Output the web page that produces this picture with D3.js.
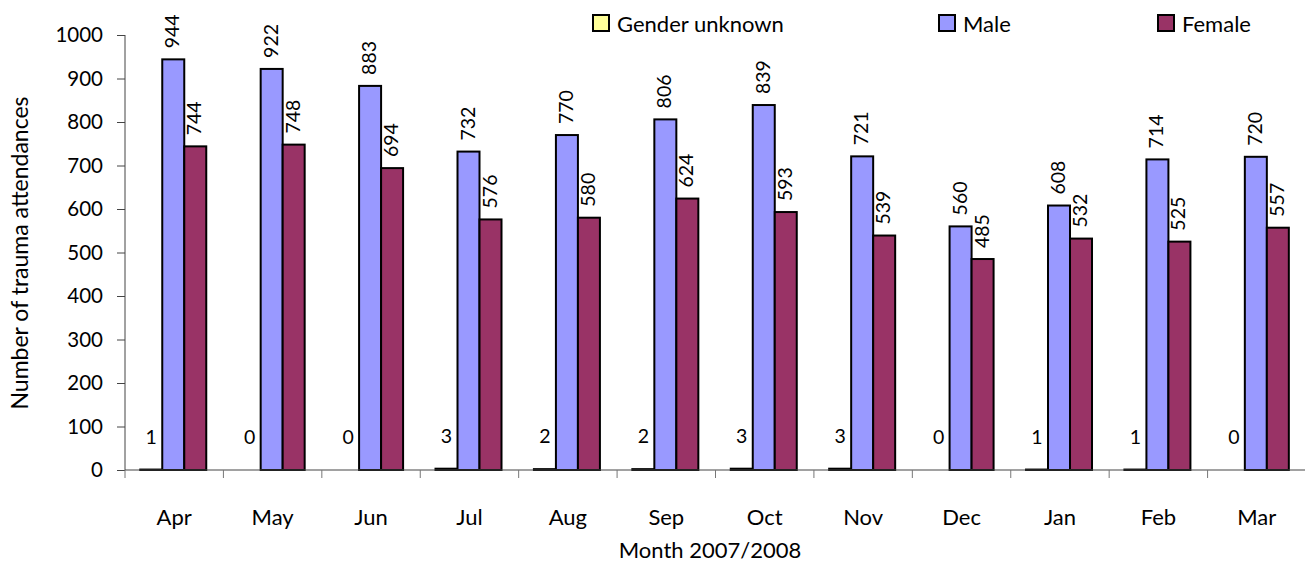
<!DOCTYPE html>
<html>
<head>
<meta charset="utf-8">
<script src="https://cdn.jsdelivr.net/npm/d3@7"></script>
<style>
  body { margin: 0; background: #fff; }
  svg { display: block; font-family: Lato, "Open Sans", sans-serif; }
</style>
</head>
<body>
<div id="chart"></div>
<script>
const months = ['Apr', 'May', 'Jun', 'Jul', 'Aug', 'Sep', 'Oct', 'Nov', 'Dec', 'Jan', 'Feb', 'Mar'];
const seriesNames = ['Gender unknown', 'Male', 'Female'];
const unknownValues = [1, 0, 0, 3, 2, 2, 3, 3, 0, 1, 1, 0];
const maleValues = [944, 922, 883, 732, 770, 806, 839, 721, 560, 608, 714, 720];
const femaleValues = [744, 748, 694, 576, 580, 624, 593, 539, 485, 532, 525, 557];
const yTicks = [0, 100, 200, 300, 400, 500, 600, 700, 800, 900, 1000];

const colors = ['#FFFF99', '#9999FF', '#993366'];
const allSeries = [unknownValues, maleValues, femaleValues];

const width = 1305, height = 563;
const plotLeft = 125, plotRight = 1306, plotTop = 35, plotBottom = 470;
const labelSize = 19.5, tickSize = 20.5, textSize = 22;

const svg = d3.select('#chart').append('svg')
    .attr('width', width)
    .attr('height', height);

const x0 = d3.scaleBand().domain(months).range([plotLeft, plotRight]);
const inner = x0.bandwidth();
const x1 = d3.scaleBand().domain(seriesNames)
    .range([inner * 0.155, inner * 0.155 + 66]);
const y = d3.scaleLinear().domain([0, 1000]).range([plotBottom, plotTop]);

// bars
const groups = svg.selectAll('g.month')
    .data(months)
    .enter().append('g')
    .attr('class', 'month')
    .attr('transform', d => `translate(${x0(d)},0)`);

groups.each(function(m, i) {
    const g = d3.select(this);
    seriesNames.forEach((s, j) => {
        const v = allSeries[j][i];
        if (v > 0) {
            g.append('rect')
                .attr('x', x1(s))
                .attr('y', y(v))
                .attr('width', x1.bandwidth())
                .attr('height', y(0) - y(v))
                .attr('fill', colors[j])
                .attr('stroke', '#000')
                .attr('stroke-width', 2);
        }
        const cx = x1(s) + x1.bandwidth() / 2;
        if (j === 0) {
            g.append('text')
                .attr('x', cx)
                .attr('y', y(v) - 26)
                .attr('text-anchor', 'middle')
                .attr('font-size', labelSize)
                .text(v);
        } else {
            g.append('text')
                .attr('transform', `translate(${cx + 6},${y(v) - 11}) rotate(-90)`)
                .attr('text-anchor', 'start')
                .attr('font-size', labelSize)
                .text(v);
        }
    });
});

// y axis
const yAxis = svg.append('g')
    .attr('transform', `translate(${plotLeft},0)`)
    .call(d3.axisLeft(y).tickValues(yTicks).tickFormat(d3.format('d')).tickSize(8).tickPadding(14));
yAxis.selectAll('text').attr('font-size', tickSize).attr('font-family', 'Lato, sans-serif').attr('fill', '#000');
yAxis.select('.domain').attr('stroke', '#444').attr('d', `M0,${plotTop}V${plotBottom}`);
yAxis.selectAll('.tick line').attr('stroke', '#444');

// x axis
const xAxis = svg.append('g');
xAxis.append('line')
    .attr('x1', plotLeft).attr('x2', width)
    .attr('y1', plotBottom).attr('y2', plotBottom)
    .attr('stroke', '#444');
xAxis.selectAll('line.tick')
    .data(months)
    .enter().append('line')
    .attr('class', 'tick')
    .attr('x1', d => x0(d)).attr('x2', d => x0(d))
    .attr('y1', plotBottom).attr('y2', plotBottom + 8)
    .attr('stroke', '#777');
xAxis.selectAll('text')
    .data(months)
    .enter().append('text')
    .attr('x', d => x0(d) + inner / 2)
    .attr('y', 525)
    .attr('text-anchor', 'middle')
    .attr('font-size', textSize)
    .text(d => d);

// axis titles
svg.append('text')
    .attr('x', 710).attr('y', 558)
    .attr('text-anchor', 'middle')
    .attr('font-size', textSize)
    .text('Month 2007/2008');

svg.append('text')
    .attr('transform', 'translate(28,253) rotate(-90)')
    .attr('text-anchor', 'middle')
    .attr('font-size', 23)
    .text('Number of trauma attendances');

// legend
const legendX = [593, 939, 1158];
const legend = svg.selectAll('g.legend')
    .data(seriesNames)
    .enter().append('g')
    .attr('class', 'legend')
    .attr('transform', (d, i) => `translate(${legendX[i]},15)`);
legend.append('rect')
    .attr('width', 16).attr('height', 16)
    .attr('fill', (d, i) => colors[i])
    .attr('stroke', '#000')
    .attr('stroke-width', 2);
legend.append('text')
    .attr('x', 24).attr('y', 17)
    .attr('font-size', textSize)
    .text(d => d);
</script>
</body>
</html>
